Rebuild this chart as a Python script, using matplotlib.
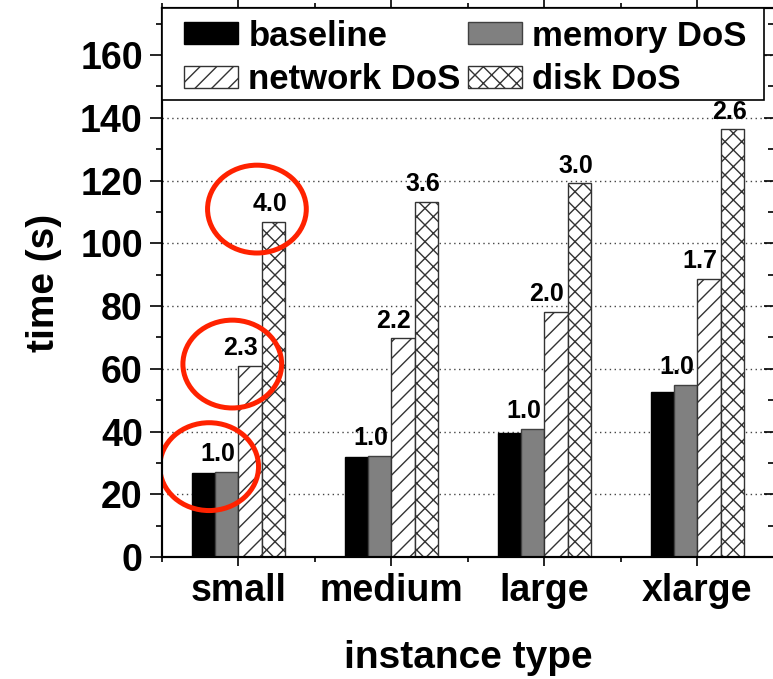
import matplotlib
matplotlib.use("Agg")
import matplotlib.pyplot as plt
from matplotlib.patches import Ellipse, Rectangle
import numpy as np

plt.rcParams["font.family"] = ["Liberation Sans", "DejaVu Sans"]
plt.rcParams["font.weight"] = "bold"
plt.rcParams["hatch.linewidth"] = 1.0

categories = ["small", "medium", "large", "xlarge"]
baseline = [26.7, 32.0, 39.4, 52.7]
memory_dos = [27.2, 32.3, 40.8, 54.9]
network_dos = [60.9, 69.7, 78.2, 88.6]
disk_dos = [106.9, 113.2, 119.1, 136.3]

memory_labels = ["1.0", "1.0", "1.0", "1.0"]
network_labels = ["2.3", "2.2", "2.0", "1.7"]
disk_labels = ["4.0", "3.6", "3.0", "2.6"]

# red circles drawn round the "small" labels (data coords)
circles = [(0.810, 28.8), (0.961, 61.5), (1.122, 110.9)]

fig = plt.figure(figsize=(7.73, 6.79), dpi=100)
ax = fig.add_axes([0.2092, 0.1797, 0.7921, 0.8085])

x = np.arange(1, len(categories) + 1)
w = 0.152

ax.grid(axis="y", which="major", linestyle=(0, (1, 2.5)), color="#444444", linewidth=1.0)
ax.set_axisbelow(True)

b1 = ax.bar(x - 1.5 * w, baseline, w, color="black", edgecolor="black", linewidth=1, label="baseline")
b2 = ax.bar(x - 0.5 * w, memory_dos, w, color="#808080", edgecolor="#404040", linewidth=1, label="memory DoS")
b3 = ax.bar(x + 0.5 * w, network_dos, w, color="white", edgecolor="#333333", hatch="//", linewidth=1, label="network DoS")
b4 = ax.bar(x + 1.5 * w, disk_dos, w, color="white", edgecolor="#333333", hatch="xx", linewidth=1, label="disk DoS")

for bars, labels, dx in [(b2, memory_labels, -0.06), (b3, network_labels, -0.06), (b4, disk_labels, -0.02)]:
    for rect, lab in zip(bars, labels):
        ax.annotate(lab, (rect.get_x() + rect.get_width() / 2 + dx, rect.get_height()),
                    xytext=(0, 4), textcoords="offset points",
                    ha="center", va="bottom", fontsize=18, fontweight="bold")

for cx, cy in circles:
    ax.add_patch(Ellipse((cx, cy), 0.645, 28.0, fill=False, edgecolor="#ff2200", linewidth=3.6, zorder=5))

ax.set_xlim(0.5, 4.5)
ax.set_ylim(0, 175)
ax.set_xticks(x)
ax.set_xticklabels(categories)
ax.set_xticks(np.arange(0.5, 4.6, 1.0), minor=True)
ax.set_yticks(np.arange(0, 161, 20))
ax.set_yticks(np.arange(10, 175, 20), minor=True)

ax.tick_params(axis="both", which="major", labelsize=27, width=1.2)
ax.tick_params(axis="y", which="major", direction="out", length=8.6, pad=5)
ax.tick_params(axis="y", which="minor", direction="out", length=4.3, width=1.2)
ax.tick_params(axis="x", which="major", direction="out", length=6.5, pad=5, top=True)
ax.tick_params(axis="x", which="minor", direction="out", length=3.6, width=1.2, top=True)
for lab in ax.get_xticklabels() + ax.get_yticklabels():
    lab.set_fontweight("bold")

# right-hand ticks point inwards
ax2 = ax.twinx()
ax2.set_ylim(ax.get_ylim())
ax2.set_yticks(ax.get_yticks())
ax2.set_yticks(np.arange(10, 175, 20), minor=True)
ax2.tick_params(axis="y", which="major", direction="in", length=7, width=1.2, labelright=False)
ax2.tick_params(axis="y", which="minor", direction="in", length=4, width=1.2)

for a in (ax, ax2):
    for s in a.spines.values():
        s.set_linewidth(1.5)

ax.set_ylabel("time (s)", fontsize=28, fontweight="bold", labelpad=13)
ax.set_xlabel("instance type", fontsize=28, fontweight="bold", labelpad=22)

# legend box
box_x1, box_y0 = 0.9837, 0.8324
ax2.add_patch(Rectangle((0, box_y0), box_x1, 1 - box_y0, transform=ax.transAxes,
                        facecolor="white", edgecolor="black", linewidth=1.2, zorder=6))
leg = ax2.legend(handles=[b1, b3, b2, b4], ncol=2, loc="center",
                 bbox_to_anchor=(box_x1 / 2 + 0.004, (1 + box_y0) / 2 - 0.007), bbox_transform=ax.transAxes,
                 fontsize=25, frameon=False,
                 handlelength=1.55, handleheight=0.6, handletextpad=0.3,
                 columnspacing=0.2, labelspacing=0.3, borderpad=0.0)
leg.set_zorder(7)
for t in leg.get_texts():
    t.set_fontweight("bold")

fig.savefig("out.png", dpi=100)
